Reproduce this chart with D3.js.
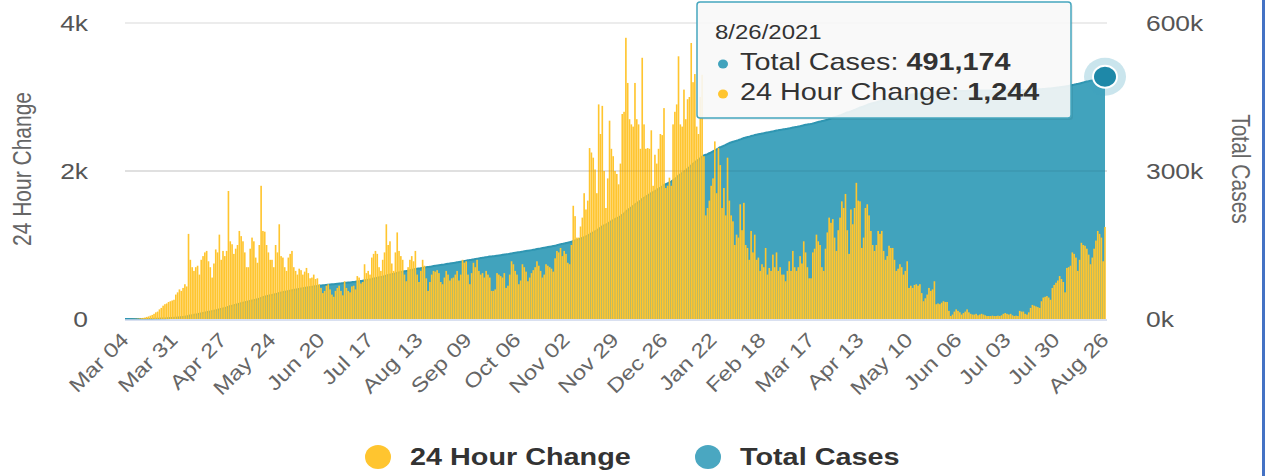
<!DOCTYPE html>
<html><head><meta charset="utf-8">
<script src="https://cdn.jsdelivr.net/npm/d3@7"></script>
<style>
body{margin:0;background:#fff;}
svg{display:block;font-family:"Liberation Sans",Arial,Helvetica,sans-serif;}
</style>
</head><body>
<svg id="c" width="1266" height="476"></svg>
<script>
// ---------------- data ----------------
const startDate = "2020-03-04";
const dailyChange = [
0,0,0,1,1,2,3,5,8,12,
15,20,28,35,45,55,70,90,100,130,
150,180,200,210,230,240,250,260,330,360,
400,380,420,470,440,1150,800,700,650,700,
720,600,800,850,900,920,780,700,560,750,
940,900,1140,800,920,850,920,1730,1050,1010,
880,950,1000,1190,1120,1050,900,700,700,950,
1100,1050,830,760,1000,1800,1190,1180,1000,900,
800,800,700,1000,900,1280,850,830,700,650,
830,880,920,700,650,600,680,660,600,640,
690,620,550,560,600,540,550,470,420,350,
380,450,470,400,330,300,380,420,450,380,
320,510,420,380,360,440,450,400,580,560,
480,500,740,620,650,600,830,880,920,880,
700,650,800,900,1280,1000,1050,750,650,900,
1170,920,850,800,600,510,700,800,850,780,
920,600,500,650,800,720,550,380,500,600,
650,640,660,620,500,470,560,650,600,520,
550,560,600,650,520,600,800,760,780,600,
470,620,760,700,800,650,600,620,560,650,
600,560,380,380,400,620,600,580,560,620,
420,450,600,780,740,650,600,470,520,740,
700,640,510,560,620,660,700,780,720,650,
560,600,740,720,700,680,640,820,920,900,
960,850,920,880,760,740,1000,1530,1390,1100,
1100,1250,1370,1700,1480,1600,2310,2250,2180,2020,
1700,2900,2500,2880,2000,1500,1900,2680,2300,2200,
2000,1960,1820,2100,2770,2800,3800,3190,2700,2630,
2600,3190,2700,2630,2300,3530,2630,2300,2310,2300,
2550,1800,2220,2100,2300,2500,2485,2850,1770,1800,
1910,1800,2630,2800,2900,3550,2630,2600,3100,2700,
2970,3000,3730,3200,3310,2600,2500,3000,3300,2200,
1400,1500,1600,1800,1900,2400,1700,2310,2080,1500,
1770,1400,2180,1600,1400,1320,1000,1140,1100,1550,
1200,1570,1000,960,800,1190,900,1140,800,830,
650,740,700,960,600,690,650,870,700,900,
650,700,600,600,510,650,780,650,920,700,
650,700,850,750,1050,900,700,550,550,900,
950,1140,1050,1000,700,650,950,1170,1370,1300,
1350,1100,920,1200,1370,1590,1500,1690,1200,880,
1480,1280,1500,1840,1600,1590,960,1100,1500,1550,
1400,1190,1000,920,1000,1190,1150,1190,920,800,
850,990,960,960,800,650,680,740,700,600,
650,780,420,450,420,460,470,450,470,350,
240,280,330,420,380,400,510,200,210,200,
220,240,230,230,110,40,60,100,130,110,
90,60,80,100,130,90,70,60,60,70,
50,60,70,60,50,40,40,40,45,40,
40,45,40,50,70,80,70,60,70,50,
40,45,40,110,100,100,70,60,90,150,
190,180,170,160,150,240,290,300,310,290,
260,420,460,490,520,580,540,500,360,690,
700,720,900,880,830,650,800,1030,1000,990,
950,870,740,830,950,1060,1190,1150,1100,780,
1244
];
const tickDates = ["2020-03-04","2020-03-31","2020-04-27","2020-05-24","2020-06-20","2020-07-17",
"2020-08-13","2020-09-09","2020-10-06","2020-11-02","2020-11-29","2020-12-26","2021-01-22",
"2021-02-18","2021-03-17","2021-04-13","2021-05-10","2021-06-06","2021-07-03","2021-07-30","2021-08-26"];
const seriesNames = ["24 Hour Change","Total Cases"];
const leftTicks = [0,2000,4000];
const leftTickLabels = ["0","2k","4k"];
const rightTicks = [0,300000,600000];
const rightTickLabels = ["0k","300k","600k"];
const colors = {bar:"#FFC52F", area:"#41A3BD", line:"#2F96B2", marker:"#1E88A8"};

// ---------------- setup ----------------
const SX = 1.2; // horizontal text stretch seen in the picture
const svg = d3.select("#c");
const parse = d3.utcParse("%Y-%m-%d");
const start = parse(startDate);
const dates = dailyChange.map((v,i)=>d3.utcDay.offset(start,i));
const totals = Array.from(d3.cumsum(dailyChange));
const rows = dates.map((d,i)=>({date:d, change:dailyChange[i], total:totals[i]}));

const x = d3.scaleUtc().domain([dates[0], dates[dates.length-1]]).range([125,1105]);
const yL = d3.scaleLinear().domain([0,4000]).range([319,23]);
const yR = d3.scaleLinear().domain([0,600000]).range([319,23]);

function label(g, tx, ty, str, o={}){
  const rot = o.rot!=null ? ` rotate(${o.rot})` : "";
  const tf = o.rotFirst ? `translate(${tx},${ty})${rot} scale(${SX},1)`
                        : `translate(${tx},${ty}) scale(${SX},1)${rot}`;
  return g.append("text")
    .attr("transform", tf)
    .attr("text-anchor", o.anchor||"start")
    .attr("font-size", o.size||22)
    .attr("fill", o.fill||"#555")
    .attr("font-weight", o.weight||"normal")
    .text(str);
}

// gridlines
svg.append("g").selectAll("line").data(leftTicks.filter(v=>v>0)).join("line")
  .attr("x1",125).attr("x2",1107).attr("y1",d=>yL(d)).attr("y2",d=>yL(d))
  .attr("stroke","#e6e6e6").attr("stroke-width",1.5);

// area (total cases)
const area = d3.area().x(d=>x(d.date)).y0(yR(0)).y1(d=>yR(d.total)).curve(d3.curveMonotoneX);
const line = d3.line().x(d=>x(d.date)).y(d=>yR(d.total)).curve(d3.curveMonotoneX);
svg.append("path").datum(rows).attr("d",area).attr("fill",colors.area);
svg.append("path").datum(rows).attr("d",line).attr("fill","none").attr("stroke",colors.line).attr("stroke-width",2);

// bars (24 hour change)
const step = x(dates[1]) - x(dates[0]);
const bw = step*0.9;
svg.append("g").selectAll("rect").data(rows.filter(d=>d.change>0)).join("rect")
  .attr("x",d=>x(d.date)-bw/2).attr("width",bw)
  .attr("y",d=>yL(d.change)).attr("height",d=>yL(0)-yL(d.change))
  .attr("fill",colors.bar);

// gridline overlay visible through area
svg.append("line").attr("x1",125).attr("x2",1107).attr("y1",yL(2000)).attr("y2",yL(2000))
  .attr("stroke","rgba(0,0,0,0.07)").attr("stroke-width",1.5);

// x axis line
svg.append("line").attr("x1",125).attr("x2",1107).attr("y1",320).attr("y2",320)
  .attr("stroke","#ccd6eb").attr("stroke-width",1.5);

// axes labels
const gl = svg.append("g");
leftTicks.forEach((v,i)=> label(gl, 88, yL(v)+8, leftTickLabels[i], {anchor:"end", size:22, fill:"#555"}));
rightTicks.forEach((v,i)=> label(gl, 1146, yR(v)+8, rightTickLabels[i], {anchor:"start", size:22, fill:"#555"}));
label(gl, 31, 169, seriesNames[0], {anchor:"middle", size:21, fill:"#666", rot:-90});
label(gl, 1232, 169, seriesNames[1], {anchor:"middle", size:21, fill:"#666", rot:90});

const fmt = d3.utcFormat("%b %d");
tickDates.forEach(s=>{
  const d = parse(s);
  label(gl, x(d)+5, 341, fmt(d), {anchor:"end", size:20, fill:"#666", rot:-45, rotFirst:true});
});

// legend
const lg = svg.append("g");
[[seriesNames[0],colors.bar,378,410],[seriesNames[1],"#4AA7C1",708,740]].forEach(([n,c,cx,tx])=>{
  lg.append("ellipse").attr("cx",cx).attr("cy",457).attr("rx",13).attr("ry",12).attr("fill",c);
  label(lg, tx, 465, n, {size:24, weight:"bold", fill:"#333"});
});

// marker at last point
const last = rows[rows.length-1];
svg.append("ellipse").attr("cx",x(last.date)).attr("cy",yR(last.total)).attr("rx",21).attr("ry",19)
  .attr("fill",colors.area).attr("opacity",0.28);
svg.append("ellipse").attr("cx",x(last.date)).attr("cy",yR(last.total)).attr("rx",12).attr("ry",11)
  .attr("fill",colors.marker).attr("stroke","#fff").attr("stroke-width",2);

// tooltip
const tg = svg.append("g");
tg.append("rect").attr("x",699).attr("y",4).attr("width",374).attr("height",116).attr("rx",3)
  .attr("fill","rgba(0,0,0,0.06)");
tg.append("rect").attr("x",697).attr("y",2).attr("width",374).attr("height",116).attr("rx",3)
  .attr("fill","rgba(250,250,250,0.9)").attr("stroke","#46A6BE").attr("stroke-width",1.5);
label(tg, 715, 39, d3.utcFormat("%-m/%-d/%Y")(last.date), {size:20, fill:"#333"});
tg.append("ellipse").attr("cx",723).attr("cy",64).attr("rx",5).attr("ry",4.5).attr("fill",colors.area);
tg.append("ellipse").attr("cx",723).attr("cy",94).attr("rx",5).attr("ry",4.5).attr("fill",colors.bar);
const t1 = label(tg, 740, 70, "", {size:24, fill:"#333"});
t1.append("tspan").text(seriesNames[1]+": ");
t1.append("tspan").attr("font-weight","bold").text(d3.format(",")(last.total));
const t2 = label(tg, 740, 100, "", {size:24, fill:"#333"});
t2.append("tspan").text(seriesNames[0]+": ");
t2.append("tspan").attr("font-weight","bold").text(d3.format(",")(last.change));

// right-hand blue frame edge
svg.append("rect").attr("x",1262).attr("y",0).attr("width",3).attr("height",476).attr("fill","#4472C4");
</script>
</body></html>
